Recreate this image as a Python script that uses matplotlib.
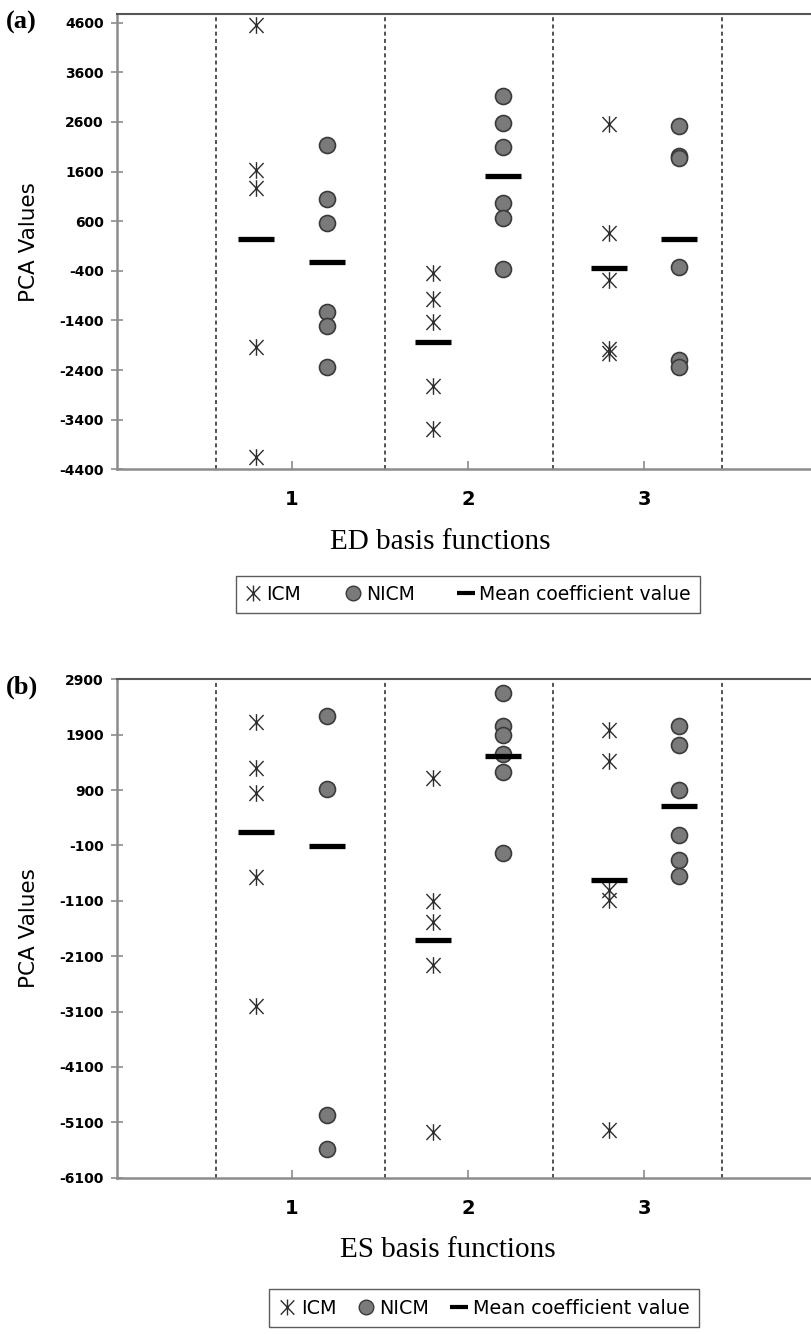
import numpy as np
import matplotlib
matplotlib.use("Agg")
import matplotlib.pyplot as plt
from matplotlib.path import Path
from matplotlib.lines import Line2D

# --- dados ---
CATEGORIAS = [1, 2, 3]

# (a) ED basis functions
ED_ICM = [
    [4550, 1630, 1260, -1930, -4150],
    [-440, -970, -1440, -2720, -3590],
    [2550, 370, -590, -1980, -2050],
]
ED_NICM = [
    [2130, 1050, 560, -1240, -1510, -2340],
    [3130, 2580, 2100, 960, 660, -370],
    [2520, 1920, 1880, -320, -2200, -2330],
]
ED_MEDIA_ICM = [250, -1830, -350]
ED_MEDIA_NICM = [-230, 1520, 250]
ED_YTICKS = [-4400, -3400, -2400, -1400, -400, 600, 1600, 2600, 3600, 4600]

# (b) ES basis functions
ES_ICM = [
    [2135, 1290, 840, -670, -3000],
    [1120, -1110, -1490, -2260, -5280],
    [1990, 1430, -900, -1080, -5240],
]
ES_NICM = [
    [2230, 920, -4960, -5580],
    [2660, 2050, 1900, 1560, 1230, -230],
    [2060, 1710, 900, 90, -360, -650],
]
ES_MEDIA_ICM = [140, -1810, -720]
ES_MEDIA_NICM = [-110, 1520, 620]
ES_YTICKS = [-6100, -5100, -4100, -3100, -2100, -1100, -100, 900, 1900, 2900]

# --- estilo ---
DESLOC = 0.2
SEPARADORES = [0.573, 1.528, 2.482, 3.44]
COR_CIRCULO = '#7a7a7a'
COR_BORDA = '#3a3a3a'
COR_ESTRELA = '#2e2e2e'

# marcador "asterisco": X + barra vertical
ESTRELA = Path(
    [(0, -1), (0, 1), (-0.85, -0.9), (0.85, 0.9), (-0.85, 0.9), (0.85, -0.9)],
    [Path.MOVETO, Path.LINETO, Path.MOVETO, Path.LINETO, Path.MOVETO, Path.LINETO],
)

W, H = 812, 1334
fig = plt.figure(figsize=(W / 100, H / 100), dpi=100)


def painel(pos_px, icm, nicm, m_icm, m_nicm, yticks, ylim, xlabel, letra, xlab_y, xlab_x):
    esq, topo, dir_, base = pos_px
    ax = fig.add_axes([esq / W, 1 - base / H, (dir_ - esq) / W, (base - topo) / H])

    for sep in SEPARADORES:
        ax.axvline(sep, color='#444444', lw=1.3, ls=(0, (2.2, 1.8)), zorder=1)

    for i, c in enumerate(CATEGORIAS):
        ax.plot([c - DESLOC] * len(icm[i]), icm[i], ls='none', marker=ESTRELA,
                ms=12, mfc='none', mec=COR_ESTRELA, mew=1.0, zorder=3)
        ax.plot([c + DESLOC] * len(nicm[i]), nicm[i], ls='none', marker='o',
                ms=11.5, mfc=COR_CIRCULO, mec=COR_BORDA, mew=1.2, zorder=3)
    ax.plot(np.array(CATEGORIAS) - DESLOC, m_icm, ls='none', marker='_',
            ms=26.5, mew=3.8, color='black', zorder=4)
    ax.plot(np.array(CATEGORIAS) + DESLOC, m_nicm, ls='none', marker='_',
            ms=26.5, mew=3.8, color='black', zorder=4)

    ax.set_xlim(0.0085, 3.953)
    ax.set_ylim(*ylim)
    ax.set_yticks(yticks)
    ax.set_yticklabels([str(t) for t in yticks])
    ax.set_xticks(CATEGORIAS)
    ax.set_xticklabels([str(c) for c in CATEGORIAS])

    ax.spines['right'].set_visible(False)
    ax.spines['top'].set_color('#555555')
    ax.spines['top'].set_linewidth(1.5)
    for s in ('left', 'bottom'):
        ax.spines[s].set_color('#8c8c8c')
        ax.spines[s].set_linewidth(1.8)

    ax.tick_params(axis='y', direction='inout', length=9, width=1.2, color='#8c8c8c',
                   pad=5, labelsize=10)
    ax.tick_params(axis='x', direction='in', length=6, width=1.2, color='#8c8c8c',
                   pad=15, labelsize=14)
    for t in ax.get_yticklabels() + ax.get_xticklabels():
        t.set_fontweight('bold')
        t.set_family('DejaVu Sans')

    ax.set_ylabel('PCA Values', fontsize=15.5, family='DejaVu Sans')
    ax.yaxis.set_label_coords(-0.112, 0.5)
    ax.set_xlabel(xlabel, fontsize=21, family='Liberation Serif', va='top')
    ax.xaxis.set_label_coords(xlab_x, xlab_y)

    fig.text(6 / W, 1 - (topo + 8) / H, letra, fontsize=19, fontweight='bold',
             family='Liberation Serif', va='center', ha='left')
    return ax


painel((117, 14, 812, 469.3), ED_ICM, ED_NICM, ED_MEDIA_ICM, ED_MEDIA_NICM,
       ED_YTICKS, (-4400, 4775), 'ED basis functions', '(a)', -0.132, 0.465)
painel((117, 679.3, 812, 1177.7), ES_ICM, ES_NICM, ES_MEDIA_ICM, ES_MEDIA_NICM,
       ES_YTICKS, (-6100, 2900), 'ES basis functions', '(b)', -0.118, 0.476)


def legenda(cx, cy, espaco, tam):
    alcas = [
        Line2D([], [], ls='none', marker=ESTRELA, ms=11.5, mfc='none', mec=COR_ESTRELA, mew=1.0),
        Line2D([], [], ls='none', marker='o', ms=10.5, mfc=COR_CIRCULO, mec=COR_BORDA, mew=1.0),
        Line2D([], [], ls='none', marker='_', ms=13.5, mew=3, color='black'),
    ]
    fig.legend(alcas, ['ICM', 'NICM', 'Mean coefficient value'], ncol=3,
               loc='center', bbox_to_anchor=(cx / W, 1 - cy / H),
               prop={'family': 'DejaVu Sans', 'size': tam}, frameon=True,
               fancybox=False, edgecolor='#333333', handlelength=0.9,
               handletextpad=0.25, columnspacing=espaco, borderpad=0.5)


legenda(468, 594.5, 2.3, 13.5)
legenda(484, 1308, 1.1, 13.8)

fig.savefig('out.png', dpi=100)
